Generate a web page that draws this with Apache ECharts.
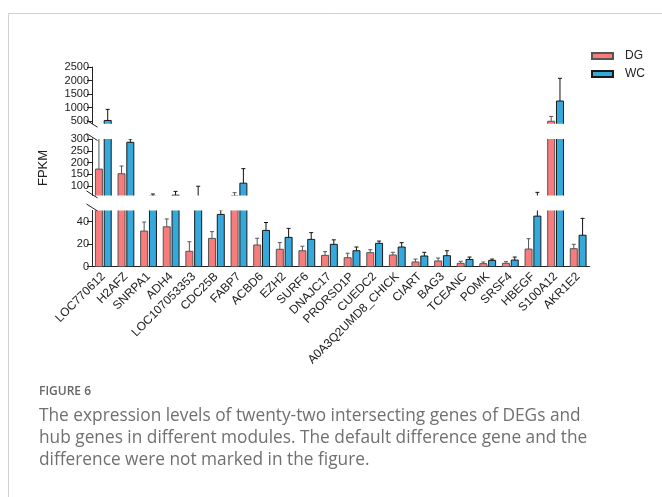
<!DOCTYPE html>
<html>
<head>
<meta charset="utf-8">
<script src="https://cdn.jsdelivr.net/npm/echarts@6/dist/echarts.min.js"></script>
<style>
  html, body { margin: 0; padding: 0; background: #fff; }
  #chart { width: 662px; height: 497px; }
</style>
</head>
<body>
<div id="chart"></div>
<script>
// ---- data ----
const categories = ['LOC770612', 'H2AFZ', 'SNRPA1', 'ADH4', 'LOC107053353', 'CDC25B', 'FABP7', 'ACBD6', 'EZH2', 'SURF6', 'DNAJC17', 'PRORSD1P', 'CUEDC2', 'A0A3Q2UMD8_CHICK', 'CIART', 'BAG3', 'TCEANC', 'POMK', 'SRSF4', 'HBEGF', 'S100A12', 'AKR1E2'];
const dgValues = [172, 152, 31.7, 35.5, 13.7, 25.2, 58, 19.3, 15.5, 14.2, 10.1, 8.0, 12.5, 10.4, 4.2, 5.1, 3.0, 2.7, 3.0, 15.7, 490, 16];
const dgErrors = [140, 33, 8, 7, 8.5, 6, 13.5, 6, 6, 4, 3.3, 4, 2.6, 2.4, 2.6, 2.6, 1.8, 1.5, 1.5, 9.2, 180, 3.9];
const wcValues = [520, 286, 57, 61, 55, 46.5, 112, 32.3, 26.1, 24.3, 19.9, 14.2, 20.8, 17.5, 9.5, 9.8, 6.5, 5.6, 5.9, 45, 1240, 28];
const wcErrors = [410, 14, 9, 16, 44, 4, 62, 7, 8, 6, 4, 3.3, 2, 3.9, 3.3, 4.4, 2.1, 1.2, 2.7, 28, 840, 15];
const topTicks = [500, 1000, 1500, 2000, 2500];
const midTicks = [100, 150, 200, 250, 300];
const lowTicks = [0, 20, 40];
const seriesNames = ['DG', 'WC'];

// ---- styles / layout ----
const DG_COLOR = '#F87C7C';
const WC_COLOR = '#35A9DC';
const BAR_W = 7;
const BAR_GAP = 1.8;
const CAP = 2;
const G_LEFT = 92;
const G_RIGHT = 72.5;
const AXIS_FONT = '"Liberation Sans", Arial, sans-serif';
const grids = [
  { top: 67, height: 56.7, min: 400, max: 2500, ticks: topTicks },
  { top: 139, height: 56.4, min: 60, max: 300, ticks: midTicks },
  { top: 210.5, height: 56.2, min: 0, max: 50, ticks: lowTicks }
];

const chart = echarts.init(document.getElementById('chart'), null, { renderer: 'canvas' });

function makeRender(sign, fill, border, errColor) {
  return function (params, api) {
    const idx = api.value(0), v = api.value(1), e = api.value(2);
    const base = api.coord([idx, 0]);
    const top = api.coord([idx, v]);
    const et = api.coord([idx, v + e]);
    const cx = base[0] + sign * (BAR_W + BAR_GAP) / 2;
    return {
      type: 'group',
      children: [
        { type: 'rect', shape: { x: cx - BAR_W / 2, y: top[1], width: BAR_W, height: base[1] - top[1] },
          style: { fill: fill, stroke: border, lineWidth: 1 } },
        { type: 'line', shape: { x1: cx, y1: top[1], x2: cx, y2: et[1] },
          style: { stroke: errColor, lineWidth: 1 } },
        { type: 'line', shape: { x1: cx - CAP, y1: et[1], x2: cx + CAP, y2: et[1] },
          style: { stroke: errColor, lineWidth: 1 } }
      ]
    };
  };
}

const gridOpts = [], xAxes = [], yAxes = [], series = [];
grids.forEach((g, gi) => {
  gridOpts.push({ left: G_LEFT, right: G_RIGHT, top: g.top, height: g.height });
  const isBottom = gi === grids.length - 1;
  xAxes.push({
    type: 'category', gridIndex: gi, data: categories, show: isBottom,
    axisLine: { lineStyle: { color: '#222', width: 1 } },
    axisTick: { alignWithLabel: true, length: 5, lineStyle: { color: '#222' } },
    axisLabel: { rotate: 45, fontSize: 12, color: '#222', margin: 8, interval: 0, fontFamily: AXIS_FONT }
  });
  yAxes.push({
    type: 'value', gridIndex: gi, min: g.min, max: g.max,
    splitLine: { show: false },
    axisLine: { show: true, lineStyle: { color: '#222', width: 1 } },
    axisTick: { show: true, length: 5, lineStyle: { color: '#222' }, customValues: g.ticks },
    axisLabel: { fontSize: 11, color: '#222', margin: 3, customValues: g.ticks, fontFamily: AXIS_FONT,
      formatter: v => String(v) }
  });
  const groups = [
    { name: seriesNames[0], vals: dgValues, errs: dgErrors, sign: -1, fill: DG_COLOR, border: '#555', err: '#555' },
    { name: seriesNames[1], vals: wcValues, errs: wcErrors, sign: 1, fill: WC_COLOR, border: '#1a1a1a', err: '#111' }
  ];
  groups.forEach(s => {
    series.push({
      type: 'custom', name: s.name, xAxisIndex: gi, yAxisIndex: gi, clip: true,
      itemStyle: { color: s.fill, borderColor: s.border, borderWidth: 1 },
      encode: { x: 0, y: 1 },
      data: categories.map((c, i) => [i, s.vals[i], s.errs[i]]),
      renderItem: makeRender(s.sign, s.fill, s.border, s.err)
    });
  });
});

// break marks on the y axis
const breakYs = [grids[0].top + grids[0].height, grids[1].top - 2, grids[1].top + grids[1].height - 1, grids[2].top - 3];
const breakMarks = breakYs.map(y => ({
  type: 'line', shape: { x1: G_LEFT - 5.5, y1: y - 3.5, x2: G_LEFT + 5.5, y2: y + 3.5 },
  style: { stroke: '#222', lineWidth: 1 }, z: 100
}));

const captionFont = '"Open Sans", "Noto Sans", sans-serif';
const captionLines = [
  'The expression levels of twenty-two intersecting genes of DEGs and',
  'hub genes in different modules. The default difference gene and the',
  'difference were not marked in the figure.'
];

chart.setOption({
  animation: false,
  backgroundColor: '#fff',
  grid: gridOpts,
  xAxis: xAxes,
  yAxis: yAxes,
  series: series,
  legend: {
    data: seriesNames.map(n => ({ name: n, icon: 'rect' })),
    orient: 'vertical', left: 586, top: 45,
    itemWidth: 21, itemHeight: 6, itemGap: 6,
    textStyle: { fontSize: 12, color: '#222', fontFamily: AXIS_FONT, padding: [0, 0, 0, 7] }
  },
  graphic: [
    // frame
    { type: 'line', shape: { x1: 8.5, y1: 13.5, x2: 662, y2: 13.5 }, style: { stroke: '#d0d0d0', lineWidth: 1 } },
    { type: 'line', shape: { x1: 8.5, y1: 13.5, x2: 8.5, y2: 497 }, style: { stroke: '#d0d0d0', lineWidth: 1 } },
    // axis name
    { type: 'text', x: 43, y: 168, rotation: Math.PI / 2,
      style: { text: 'FPKM', fontSize: 13, fill: '#222', align: 'center', verticalAlign: 'middle', fontFamily: AXIS_FONT } },
    // caption
    { type: 'text', x: 39, y: 392,
      style: { text: 'FIGURE 6', fontSize: 12, fontWeight: 600, fill: '#666', verticalAlign: 'middle', fontFamily: captionFont } },
    ...captionLines.map((t, i) => ({ type: 'text', x: 39, y: 416 + i * 22,
      style: { text: t, fontSize: 17.3, fill: '#707070', verticalAlign: 'middle', fontFamily: captionFont } })),
    ...breakMarks
  ]
});
</script>
</body>
</html>
